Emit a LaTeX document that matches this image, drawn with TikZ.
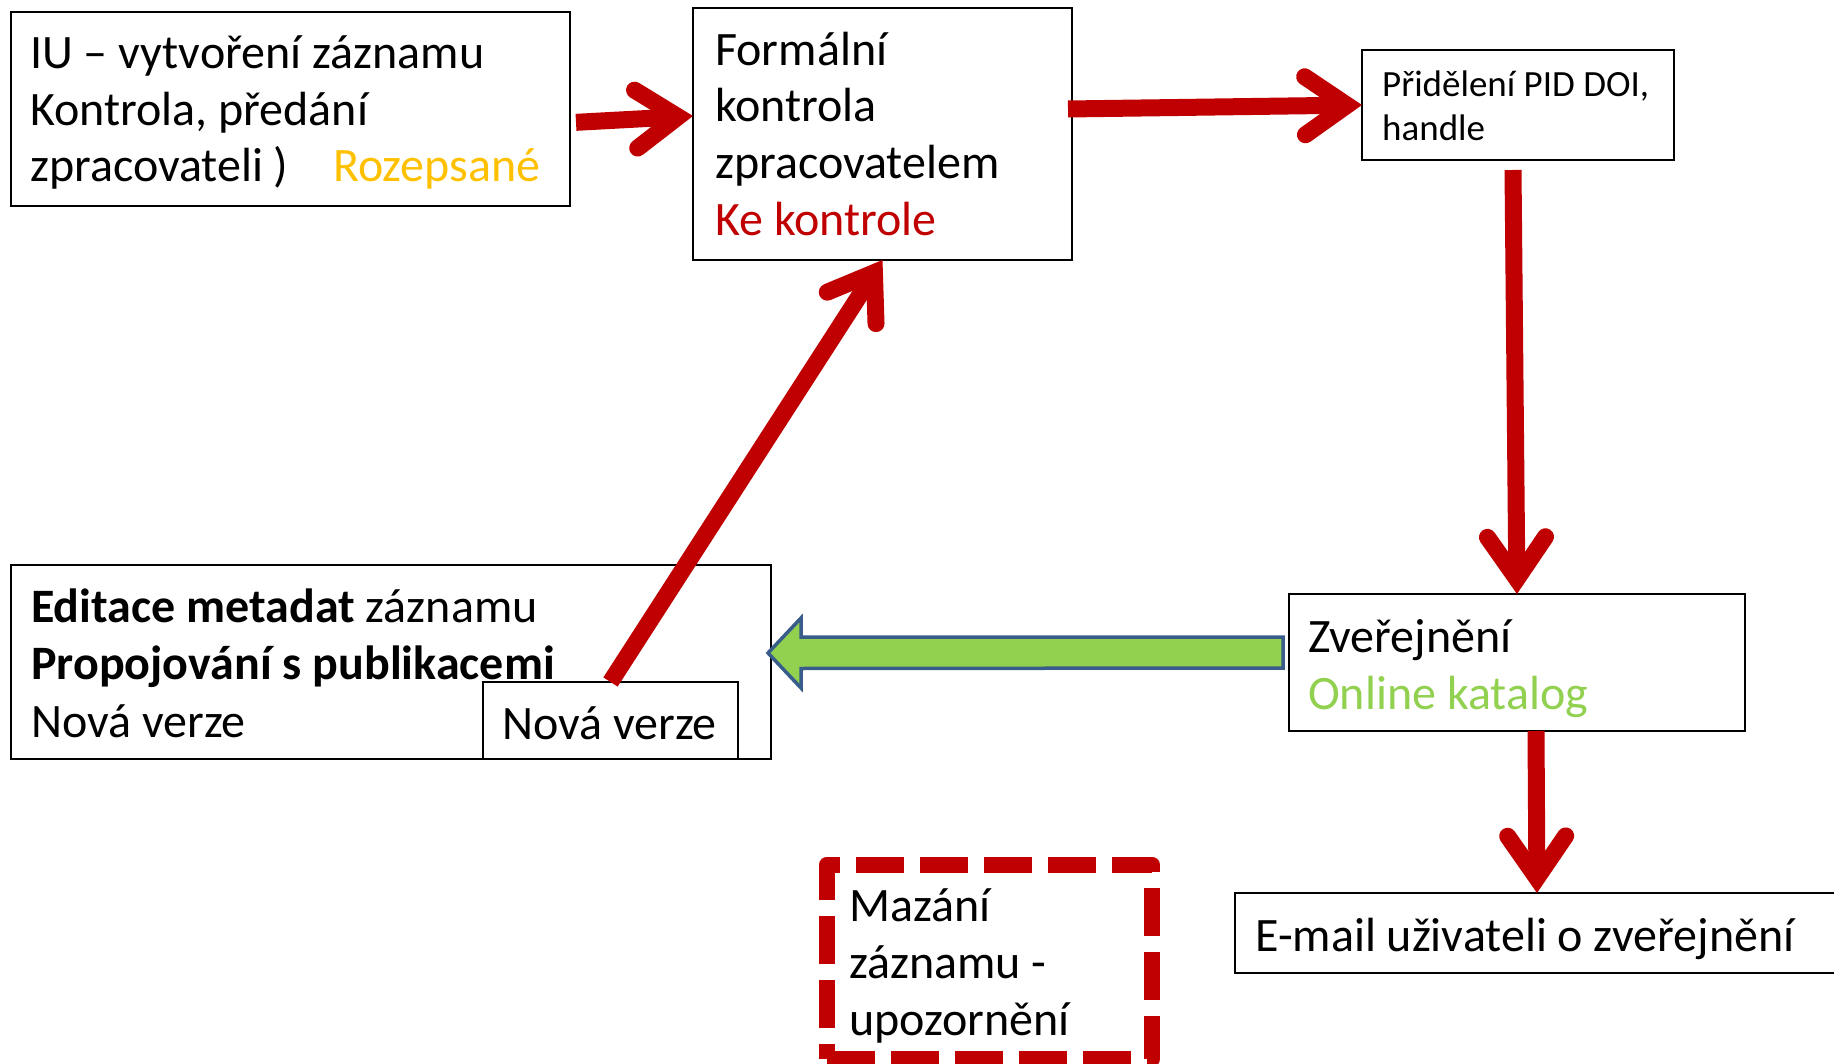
\documentclass[tikz,border=0pt]{standalone}
\usepackage{fontspec}
\setmainfont{Carlito}
\usetikzlibrary{arrows.meta,calc}
\definecolor{dred}{HTML}{C00000}
\definecolor{ylw}{HTML}{FFC000}
\definecolor{lgreen}{HTML}{92D050}
\definecolor{bblue}{HTML}{385D8A}
\begin{document}
\begin{tikzpicture}[x=1pt,y=-1pt,
  box/.style={draw=black,line width=2pt,inner sep=0pt,outer sep=0pt,anchor=north west},
  txt/.style={anchor=base west,inner sep=0pt,font=\fontsize{48}{57}\selectfont},
  smalltxt/.style={anchor=base west,inner sep=0pt,font=\fontsize{37}{44}\selectfont},
  redarrow/.style={draw=dred,line width=17pt,-{Straight Barb[length=42pt,width=58pt,line cap=round,line join=miter]}},
  dashbox/.style={draw=dred,line width=16pt,dash pattern=on 48pt off 16pt,line join=round,inner sep=0pt,outer sep=0pt,anchor=north west},
  greenarrow/.style={draw=bblue,fill=lgreen,line width=3.5pt,line join=miter}
]
\useasboundingbox (0,0) rectangle (1834,1064);
% boxes
\node[box,minimum width=559.5pt,minimum height=194.3pt] (b1) at (10.5,11.7) {};
\node[box,minimum width=379pt,minimum height=252pt] (b2) at (693,8) {};
\node[box,minimum width=312pt,minimum height=110pt] (b3) at (1362,50) {};
\node[box,minimum width=760pt,minimum height=194pt] (b4) at (11,565) {};
\node[box,minimum width=255pt,minimum height=77pt] (b5) at (483,682) {};
\node[box,minimum width=456pt,minimum height=137pt] (b6) at (1289,594) {};
\node[box,minimum width=604pt,minimum height=80pt] (b7) at (1235,893) {};
\node[dashbox,minimum width=325pt,minimum height=194.5pt] (b8) at (827,864.5) {};
% texts
\node[txt] (t1a) at (30,69) {IU – vytvoření záznamu};
\node[txt] (t1b) at (30,126) {Kontrola, předání};
\node[txt] (t1c) at (30,182) {zpracovateli )};
\node[txt,text=ylw] (t1d) at (333,182) {Rozepsané};
\node[txt] (t2a) at (715,66) {Formální};
\node[txt] (t2b) at (715,122) {kontrola};
\node[txt] (t2c) at (715,179) {zpracovatelem};
\node[txt,text=dred] (t2d) at (715,236) {Ke kontrole};
\node[smalltxt] (t3a) at (1382,97) {Přidělení PID DOI,};
\node[smalltxt] (t3b) at (1382,141) {handle};
\node[txt] (t4a) at (31,622) {\textbf{Editace metadat} záznamu};
\node[txt] (t4b) at (31,679) {\textbf{Propojování s publikacemi}};
\node[txt] (t4c) at (31,737) {Nová verze};
\node[txt] (t5) at (502,739) {Nová verze};
\node[txt] (t6a) at (1308,652) {Zveřejnění};
\node[txt,text=lgreen] (t6b) at (1308,709) {Online katalog};
\node[txt] (t7) at (1255,951) {E-mail uživateli o zveřejnění};
\node[txt] (t8a) at (849,921) {Mazání};
\node[txt] (t8b) at (849,978) {záznamu -};
\node[txt] (t8c) at (849,1035) {upozornění};
% red arrows
\draw[redarrow] ($(b1.east)+(6,13.5)$) -- ($(b2.west)+(0,-18)$);
\draw[redarrow] ($(b2.east)+(-4,-25)$) -- (b3.west);
\draw[redarrow] ($(b3.south)+(-5,10)$) -- (b6.north);
\draw[redarrow] ($(b6.south)+(19,0)$) -- (b7.north);
\draw[redarrow] (b5.north) -- (b2.south);
% green block arrow
\coordinate (gt) at ($(b4.east)+(-3,-9)$);
\coordinate (ge) at ($(b6.west)+(-6,-10)$);
\draw[greenarrow] (gt) -- ++(33,-35) -- ++(0,19) -- ($(ge)+(0,-15.5)$) -- ($(ge)+(0,15.5)$) -- ($(gt)+(33,15.5)$) -- ($(gt)+(33,35)$) -- cycle;
\end{tikzpicture}
\end{document}
